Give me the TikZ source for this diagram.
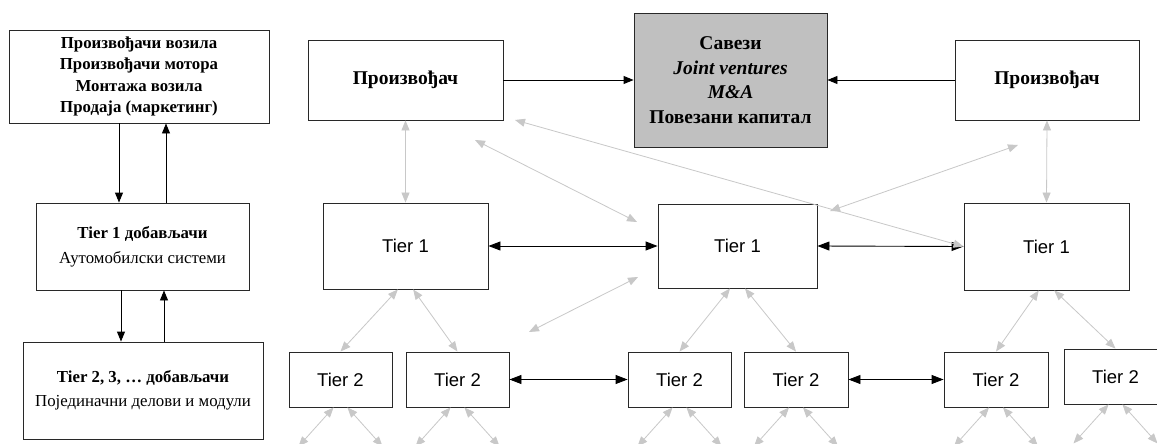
\documentclass[tikz,border=0pt]{standalone}
\usepackage{fontspec}
\setmainfont{Liberation Serif}
\newfontfamily\arialf{Liberation Sans}
\usetikzlibrary{arrows.meta,calc}
\definecolor{lgray}{RGB}{200,200,200}
\definecolor{boxgray}{RGB}{192,192,192}
\definecolor{edge}{RGB}{40,40,40}
\begin{document}
\begin{tikzpicture}[x=1pt,y=-1pt,
  box/.style={draw=edge, line width=0.9pt, fill=white, inner sep=0pt, align=center},
  leftbox/.style={box, font=\fontsize{16.5}{21.5}\selectfont},
  prodbox/.style={box, minimum height=80pt, font=\bfseries\fontsize{19.5}{23}\selectfont},
  graybox/.style={box, fill=boxgray, minimum width=193pt, minimum height=134pt, font=\bfseries\fontsize{19.5}{24.5}\selectfont},
  tierone/.style={box, minimum width=165pt, minimum height=86pt, font=\arialf\fontsize{18.5}{22}\selectfont},
  tiertwo/.style={box, minimum width=103pt, minimum height=55pt, font=\arialf\fontsize{18.5}{22}\selectfont},
  blk/.style={draw=black, line width=0.9pt, {Triangle[length=12pt,width=9pt]}-{Triangle[length=12pt,width=9pt]}},
  onearrow/.style={draw=black, line width=0.9pt, -{Triangle[length=10pt,width=8pt]}},
  gry/.style={draw=lgray, line width=0.8pt, {Triangle[length=10pt,width=8pt]}-{Triangle[length=10pt,width=8pt]}}]
\useasboundingbox (0,0) rectangle (1157,444);
\clip (0,0) rectangle (1157,444);
\fill[white] (0,0) rectangle (1157,444);

% left column
\node[leftbox, minimum width=260pt, minimum height=93pt, font=\bfseries\fontsize{16.8}{21.5}\selectfont] (l1) at (139,76.5)
  {Произвођачи возила\\Произвођачи мотора\\Монтажа возила\\Продаја (маркетинг)};
\node[leftbox, minimum width=213pt, minimum height=87pt, font=\fontsize{16.8}{25}\selectfont] (l2) at (142.5,246.5)
  {{\bfseries Tier 1 добављачи}\\Аутомобилски системи};
\node[leftbox, minimum width=240pt, minimum height=97pt, font=\fontsize{16.8}{24}\selectfont] (l3) at (143,390.5)
  {{\bfseries Tier 2, 3, … добављачи}\\Појединачни делови и модули};

\draw[onearrow] ([xshift=-23.5pt]l2.north |- l1.south) -- ([xshift=-23.5pt]l2.north);
\draw[onearrow] ([xshift=23.5pt]l2.north) -- ([xshift=23.5pt]l2.north |- l1.south);
\draw[onearrow] ([xshift=-21.5pt]l2.south) -- ([xshift=-21.5pt]l2.south |- l3.north);
\draw[onearrow] ([xshift=21.5pt]l2.south |- l3.north) -- ([xshift=21.5pt]l2.south);

% top row
\node[prodbox, minimum width=195pt] (pl) at (405.5,80) {Произвођач};
\node[graybox] (gb) at (730.5,80) {Савези\\\textit{Joint ventures}\\\textit{M\&A}\\Повезани капитал};
\node[prodbox, minimum width=184pt] (pr) at (1047,80) {Произвођач};
\draw[onearrow] (pl.east) -- (gb.west);
\draw[onearrow] (pr.west) -- (gb.east);

% tier 1
\node[tierone] (t1a) at (405.5,246) {Tier 1};
\node[tierone, minimum width=159pt, minimum height=84pt] (t1b) at (737.5,246) {Tier 1};
\node[tierone, minimum height=87pt] (t1c) at (1046.5,246.5) {Tier 1};
\draw[blk] (t1a.east) -- (t1b.west);
\draw[blk] (t1b.east) -- (t1c.west);

% tier 2
\node[tiertwo] (t2a) at (340.5,379.5) {Tier 2};
\node[tiertwo] (t2b) at (457.5,379.5) {Tier 2};
\node[tiertwo] (t2c) at (679.5,379.5) {Tier 2};
\node[tiertwo, minimum width=104pt] (t2d) at (796,379.5) {Tier 2};
\node[tiertwo, minimum width=104pt] (t2e) at (996,379.5) {Tier 2};
\node[tiertwo] (t2f) at (1115.5,376.5) {Tier 2};
\draw[blk] (t2b.east) -- (t2c.west);
\draw[blk] (t2d.east) -- (t2e.west);

% gray links
\draw[gry] (pl.south) -- (t1a.north);
\draw[gry] (pr.south) -- (t1c.north);
\draw[gry] (t1a.-100) -- (t2a.north);
\draw[gry] (t1a.-80) -- (t2b.north);
\draw[gry] (t1b.-100) -- (t2c.north);
\draw[gry] (t1b.-80) -- (t2d.north);
\draw[gry] (t1c.-100) -- (t2e.north);
\draw[gry] (t1c.-80) -- (t2f.north);

\coordinate (g1a) at (515,120);
\coordinate (g2a) at (475,140);
\coordinate (g2b) at (637,222);
\coordinate (g3a) at (529,332);
\coordinate (g3b) at (638,277);
\coordinate (g4a) at (830,211);
\coordinate (g4b) at (1018,145);
\draw[gry] (g1a) -- (t1c.west);
\draw[gry] (g2a) -- (g2b);
\draw[gry] (g3a) -- (g3b);
\draw[gry] (g4a) -- (g4b);

\foreach \n in {t2a,t2b,t2c,t2d,t2e,t2f}{
  \coordinate (\n-bl) at ($(\n.south)+(-42,39)$);
  \coordinate (\n-br) at ($(\n.south)+(42,39)$);
  \draw[gry] (\n.-104) -- (\n-bl);
  \draw[gry] (\n.-76) -- (\n-br);
}
\end{tikzpicture}
\end{document}
